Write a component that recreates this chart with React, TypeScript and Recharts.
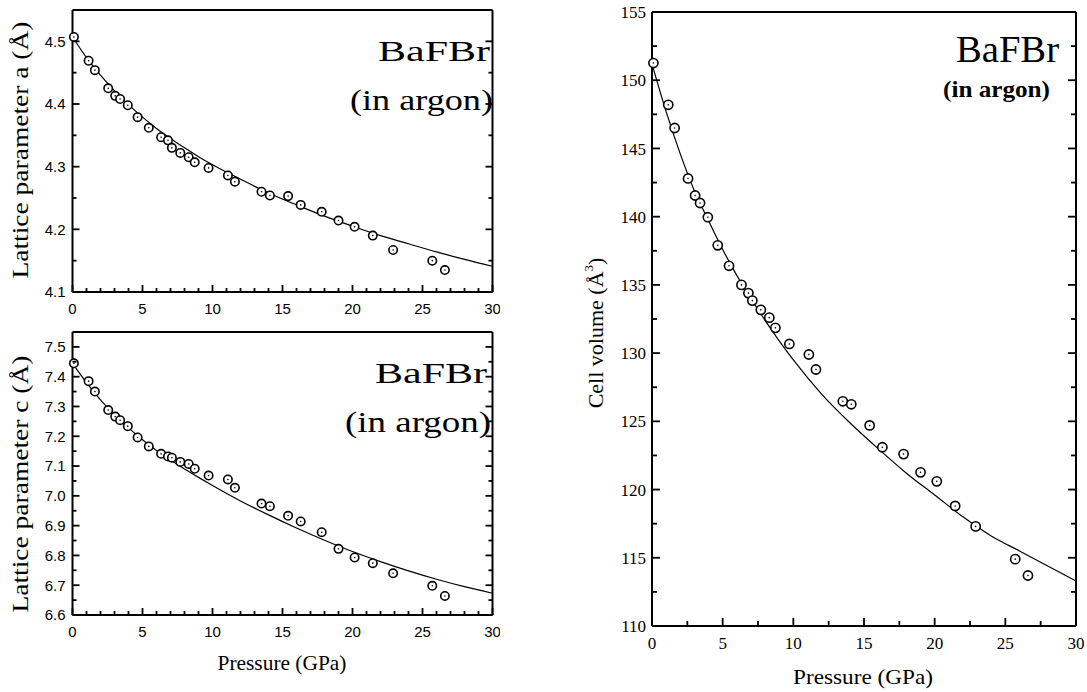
import { ComposedChart, Line, Scatter, XAxis, YAxis } from "recharts";

// measured points (shared pressure steps for all three panels)
const pressure = [0.1, 1.15, 1.6, 2.55, 3.05, 3.4, 3.95, 4.65, 5.45, 6.33, 6.82, 7.1, 7.7, 8.3, 8.73, 9.72, 11.1, 11.6, 13.5, 14.1, 15.4, 16.3, 17.8, 19.0, 20.15, 21.45, 22.9, 25.7, 26.6];
const latticeA = [4.507, 4.469, 4.454, 4.425, 4.413, 4.408, 4.398, 4.379, 4.362, 4.347, 4.342, 4.33, 4.322, 4.315, 4.307, 4.298, 4.286, 4.276, 4.26, 4.254, 4.253, 4.239, 4.228, 4.214, 4.204, 4.19, 4.167, 4.15, 4.135];
const latticeC = [7.445, 7.385, 7.35, 7.288, 7.266, 7.254, 7.234, 7.196, 7.166, 7.141, 7.132, 7.128, 7.114, 7.107, 7.091, 7.068, 7.055, 7.027, 6.974, 6.965, 6.933, 6.914, 6.878, 6.822, 6.793, 6.774, 6.74, 6.698, 6.664];
const cellVolume = [151.26, 148.2, 146.5, 142.8, 141.55, 141.0, 139.96, 137.9, 136.4, 135.0, 134.4, 133.85, 133.17, 132.6, 131.85, 130.67, 129.9, 128.8, 126.47, 126.25, 124.7, 123.1, 122.6, 121.26, 120.6, 118.8, 117.3, 114.9, 113.7];

// fitted curves
const fitPressure = [0, 1, 2, 3, 4, 5, 6, 7, 8, 9, 10, 12, 14, 16, 18, 20, 22, 24, 26, 28, 30];
const fitA = [4.507, 4.474, 4.446, 4.421, 4.399, 4.379, 4.361, 4.345, 4.33, 4.316, 4.303, 4.28, 4.258, 4.239, 4.221, 4.205, 4.19, 4.177, 4.164, 4.152, 4.141];
const fitC = [7.445, 7.38, 7.322, 7.272, 7.228, 7.188, 7.152, 7.12, 7.09, 7.062, 7.035, 6.983, 6.936, 6.892, 6.851, 6.813, 6.779, 6.748, 6.72, 6.695, 6.673];
const fitV = [151.2, 147.7, 144.6, 141.9, 139.7, 137.6, 135.7, 134.0, 132.4, 130.9, 129.5, 127.0, 124.9, 123.0, 121.2, 119.6, 118.0, 116.6, 115.5, 114.4, 113.3];

// ticks
const pTicksFine = [0, 1, 2, 3, 4, 5, 6, 7, 8, 9, 10, 11, 12, 13, 14, 15, 16, 17, 18, 19, 20, 21, 22, 23, 24, 25, 26, 27, 28, 29, 30];
const pTicksCoarse = [0, 2.5, 5, 7.5, 10, 12.5, 15, 17.5, 20, 22.5, 25, 27.5, 30];
const aTicks = [4.1, 4.15, 4.2, 4.25, 4.3, 4.35, 4.4, 4.45, 4.5];
const cTicks = [6.6, 6.65, 6.7, 6.75, 6.8, 6.85, 6.9, 6.95, 7.0, 7.05, 7.1, 7.15, 7.2, 7.25, 7.3, 7.35, 7.4, 7.45, 7.5];
const vTicks = [110, 112.5, 115, 117.5, 120, 122.5, 125, 127.5, 130, 132.5, 135, 137.5, 140, 142.5, 145, 147.5, 150, 152.5, 155];

const SERIF = '"Liberation Serif", "Times New Roman", serif';
const SANS = '"Liberation Sans", Arial, sans-serif';

const isMult = (v: number, step: number) => Math.abs(v / step - Math.round(v / step)) < 1e-6;

type TickCfg = {
  step: number;
  major: number;
  minor: number;
  font: string;
  size: number;
  gap: number;
  fmt: (v: number) => string;
};

const TW = 1.8; // tick thickness

// inward tick marks drawn as thin filled rects (long on labelled values)
const makeTick = (side: "bottom" | "top" | "left" | "right", pos: number, cfg: TickCfg, label: boolean) =>
  (props: any) => {
    const v = props.payload.value;
    const big = isMult(v, cfg.step);
    const len = big ? cfg.major : cfg.minor;
    const horiz = side === "bottom" || side === "top";
    let mark;
    if (side === "bottom") mark = <rect x={props.x - TW / 2} y={pos - len} width={TW} height={len} fill="#000" />;
    else if (side === "top") mark = <rect x={props.x - TW / 2} y={pos} width={TW} height={len} fill="#000" />;
    else if (side === "left") mark = <rect x={pos} y={props.y - TW / 2} width={len} height={TW} fill="#000" />;
    else mark = <rect x={pos - len} y={props.y - TW / 2} width={len} height={TW} fill="#000" />;
    return (
      <g>
        {mark}
        {label && big && (
          horiz ? (
            <text x={props.x} y={pos + cfg.gap} textAnchor="middle" fontFamily={cfg.font} fontSize={cfg.size} fill="#000">
              {cfg.fmt(v)}
            </text>
          ) : (
            <text x={pos - cfg.gap} y={props.y} dy="0.36em" textAnchor="end" fontFamily={cfg.font} fontSize={cfg.size} fill="#000">
              {cfg.fmt(v)}
            </text>
          )
        )}
      </g>
    );
  };

const ring = (r: number) => (props: any) => (
  <g>
    <circle cx={props.cx} cy={props.cy} r={r} fill="#fff" stroke="#000" strokeWidth={1.6} />
    <circle cx={props.cx} cy={props.cy} r={0.8} fill="#000" />
  </g>
);

type PanelProps = {
  left: number;
  top: number;
  width: number;
  height: number;
  plot: { x0: number; x1: number; y0: number; y1: number };
  ys: number[];
  fit: number[];
  yDomain: [number, number];
  yTicks: number[];
  xTicks: number[];
  xCfg: TickCfg;
  yCfg: TickCfg;
  r: number;
};

function Panel(p: PanelProps) {
  const pts = pressure.map((x, i) => ({ p: x, y: p.ys[i] }));
  const curve = fitPressure.map((x, i) => ({ p: x, y: p.fit[i] }));
  const { x0, x1, y0, y1 } = p.plot;
  // each axis takes 1px of room, so the margins are one pixel short
  const margin = { top: y0 - 1, bottom: p.height - y1 - 1, left: x0 - 1, right: p.width - x1 - 1 };
  const axisLine = { stroke: "#000", strokeWidth: 2 };
  return (
    <div style={{ position: "absolute", left: p.left, top: p.top }}>
      <ComposedChart width={p.width} height={p.height} margin={margin}>
        <XAxis xAxisId="b" type="number" dataKey="p" domain={[0, 30]} ticks={p.xTicks} interval={0}
          height={1} axisLine={axisLine} tickLine={false} tick={makeTick("bottom", y1, p.xCfg, true)} />
        <XAxis xAxisId="t" orientation="top" type="number" dataKey="p" domain={[0, 30]} ticks={p.xTicks} interval={0}
          height={1} axisLine={axisLine} tickLine={false} tick={makeTick("top", y0, p.xCfg, false)} />
        <YAxis yAxisId="l" type="number" dataKey="y" domain={p.yDomain} ticks={p.yTicks} interval={0}
          width={1} axisLine={axisLine} tickLine={false} tick={makeTick("left", x0, p.yCfg, true)} allowDataOverflow />
        <YAxis yAxisId="r" orientation="right" type="number" dataKey="y" domain={p.yDomain} ticks={p.yTicks} interval={0}
          width={1} axisLine={axisLine} tickLine={false} tick={makeTick("right", x1, p.yCfg, false)} allowDataOverflow />
        <Line xAxisId="b" yAxisId="l" data={curve} dataKey="y" type="monotone" stroke="#000" strokeWidth={1.2}
          dot={false} isAnimationActive={false} />
        <Scatter xAxisId="b" yAxisId="l" data={pts} dataKey="y" shape={ring(p.r)} isAnimationActive={false} />
        <Scatter xAxisId="t" yAxisId="r" data={[]} dataKey="y" isAnimationActive={false} />
      </ComposedChart>
    </div>
  );
}

const leftX: TickCfg = { step: 5, major: 7, minor: 4, font: SANS, size: 15, gap: 22, fmt: (v) => String(v) };

export default function App() {
  return (
    <div style={{ position: "absolute", left: 0, top: 0, width: 1087, height: 692, background: "#fff", overflow: "hidden" }}>
      <Panel left={0} top={0} width={500} height={330}
        plot={{ x0: 72.5, x1: 492.5, y0: 10, y1: 292 }}
        ys={latticeA} fit={fitA} yDomain={[4.1, 4.55]} yTicks={aTicks} xTicks={pTicksFine}
        xCfg={leftX}
        yCfg={{ step: 0.1, major: 7, minor: 4, font: SANS, size: 15, gap: 7, fmt: (v) => v.toFixed(1) }}
        r={4.2} />
      <Panel left={0} top={320} width={500} height={372}
        plot={{ x0: 72.5, x1: 492.5, y0: 12, y1: 295 }}
        ys={latticeC} fit={fitC} yDomain={[6.6, 7.55]} yTicks={cTicks} xTicks={pTicksFine}
        xCfg={leftX}
        yCfg={{ step: 0.1, major: 7, minor: 4, font: SANS, size: 15, gap: 7, fmt: (v) => v.toFixed(1) }}
        r={4.2} />
      <Panel left={560} top={0} width={527} height={692}
        plot={{ x0: 92, x1: 516, y0: 12, y1: 626 }}
        ys={cellVolume} fit={fitV} yDomain={[110, 155]} yTicks={vTicks} xTicks={pTicksCoarse}
        xCfg={{ step: 5, major: 8, minor: 5, font: SERIF, size: 17, gap: 23, fmt: (v) => String(v) }}
        yCfg={{ step: 5, major: 8, minor: 5, font: SERIF, size: 17, gap: 6, fmt: (v) => String(v) }}
        r={4.6} />
      <svg width={1087} height={692} style={{ position: "absolute", left: 0, top: 0, pointerEvents: "none" }}
        fontFamily={SERIF} fill="#000">
        <text x={378} y={61} fontSize={29} textLength={112} lengthAdjust="spacingAndGlyphs">BaFBr</text>
        <text x={350} y={110} fontSize={30} textLength={143} lengthAdjust="spacingAndGlyphs">(in argon)</text>
        <text x={375} y={383} fontSize={29} textLength={112} lengthAdjust="spacingAndGlyphs">BaFBr</text>
        <text x={345} y={432} fontSize={30} textLength={146} lengthAdjust="spacingAndGlyphs">(in argon)</text>
        <text x={956} y={62} fontSize={38} textLength={103} lengthAdjust="spacingAndGlyphs">BaFBr</text>
        <text x={943} y={97} fontSize={24} fontWeight="bold" textLength={107} lengthAdjust="spacingAndGlyphs">(in argon)</text>
        <text transform="translate(28,150) rotate(-90)" textAnchor="middle" fontSize={23} textLength={257}
          lengthAdjust="spacingAndGlyphs">Lattice parameter a (Å)</text>
        <text transform="translate(28,484) rotate(-90)" textAnchor="middle" fontSize={23} textLength={257}
          lengthAdjust="spacingAndGlyphs">Lattice parameter c (Å)</text>
        <text transform="translate(603,333) rotate(-90)" textAnchor="middle" fontSize={22}>
          Cell volume (Å<tspan dy={-10} fontSize={13}>3</tspan><tspan dy={10}>)</tspan>
        </text>
        <text x={282} y={670} textAnchor="middle" fontSize={22} textLength={129} lengthAdjust="spacingAndGlyphs">Pressure (GPa)</text>
        <text x={863} y={684} textAnchor="middle" fontSize={22} textLength={140} lengthAdjust="spacingAndGlyphs">Pressure (GPa)</text>
      </svg>
    </div>
  );
}
